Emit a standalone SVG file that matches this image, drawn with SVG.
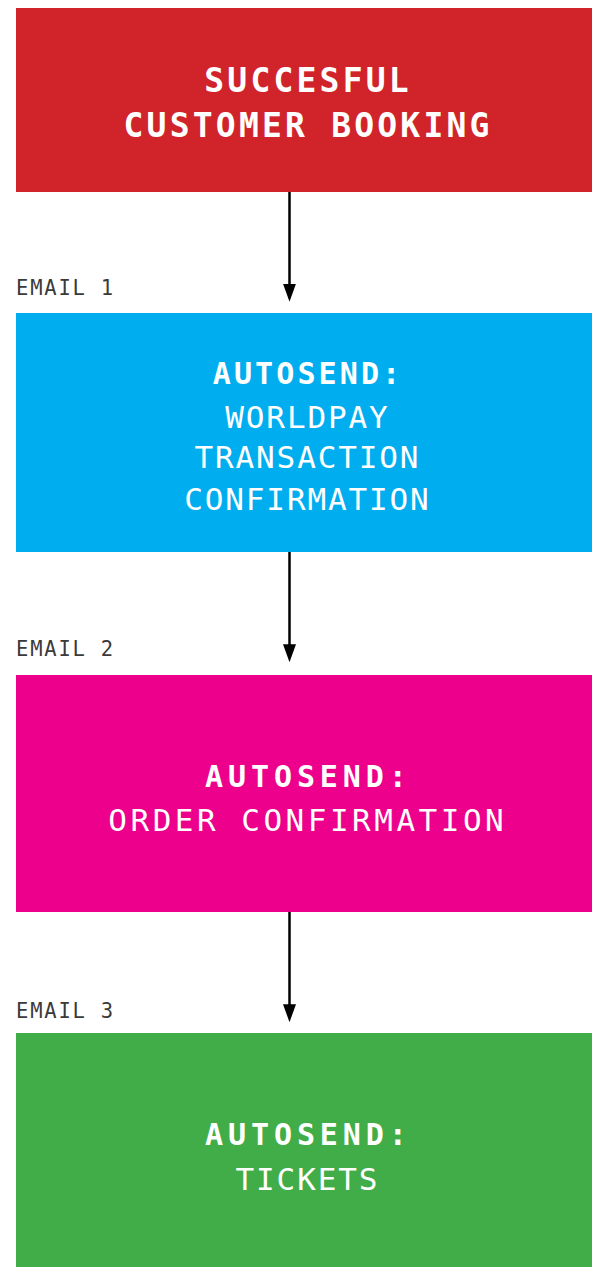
<svg xmlns="http://www.w3.org/2000/svg" width="592" height="1267" viewBox="0 0 592 1267">
<style>
text{font-family:"DejaVu Sans Mono","Liberation Mono",monospace;fill:#fff;text-anchor:middle}
.t{font-weight:bold;font-size:33px;letter-spacing:3.2px}
.hb{font-weight:bold;font-size:30px;letter-spacing:3.1px}
.hb2{font-weight:bold;font-size:30px;letter-spacing:4.9px}
.r1{font-size:31px;letter-spacing:1.85px}
.r2{font-size:31px;letter-spacing:3.5px}
.lbl{font-size:20.5px;letter-spacing:1.8px;fill:#3a3a3a;text-anchor:start}
.conn line{stroke:#000;stroke-width:2.5;marker-end:url(#ah)}
</style>
<defs>
<marker id="ah" viewBox="0 0 18 13" refX="6.3" refY="6.5" markerWidth="18" markerHeight="13" markerUnits="userSpaceOnUse" orient="auto">
<path d="M0,0 L18,6.5 L0,13 z" fill="#000"/>
</marker>
</defs>
<rect width="592" height="1267" fill="#fff"/>
<g id="booking">
<rect x="16" y="8" width="576" height="184" fill="#D1232A"/>
<text class="t" x="308.1" y="91.7">SUCCESFUL</text>
<text class="t" x="308.1" y="136.7">CUSTOMER BOOKING</text>
</g>
<g id="email1">
<text class="lbl" x="16" y="295">EMAIL 1</text>
<rect x="16" y="313" width="576" height="239" fill="#00AEEF"/>
<text class="hb" x="308" y="383.5">AUTOSEND:</text>
<text class="r1" x="307.4" y="427.7">WORLDPAY</text>
<text class="r1" x="307.4" y="468.3">TRANSACTION</text>
<text class="r1" x="307.4" y="510">CONFIRMATION</text>
</g>
<g id="email2">
<text class="lbl" x="16" y="656">EMAIL 2</text>
<rect x="16" y="675" width="576" height="237" fill="#EC008C"/>
<text class="hb2" x="308.4" y="786.7">AUTOSEND:</text>
<text class="r2" x="307.8" y="831">ORDER CONFIRMATION</text>
</g>
<g id="email3">
<text class="lbl" x="16" y="1018">EMAIL 3</text>
<rect x="16" y="1033" width="576" height="234" fill="#41AD49"/>
<text class="hb2" x="308.4" y="1144.5">AUTOSEND:</text>
<text class="r1" x="307.4" y="1190">TICKETS</text>
</g>
<g id="connectors" class="conn">
<line x1="289.5" y1="192" x2="289.5" y2="290"/>
<line x1="289.5" y1="552" x2="289.5" y2="650.5"/>
<line x1="289.5" y1="912" x2="289.5" y2="1010.5"/>
</g>
</svg>
